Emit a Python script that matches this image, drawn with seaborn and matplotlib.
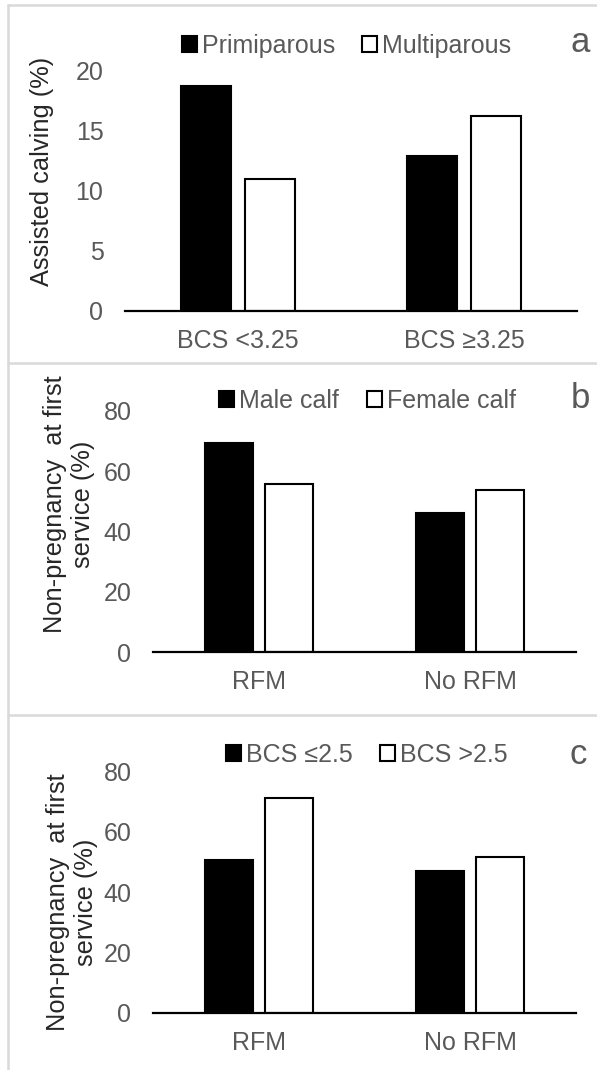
import numpy as np
import pandas as pd
import matplotlib
matplotlib.use("Agg")
import matplotlib.pyplot as plt
import seaborn as sns
from matplotlib.lines import Line2D

# ---------------- data ----------------
categories_a = ["BCS <3.25", "BCS \u22653.25"]
series_a = ["Primiparous", "Multiparous"]
primiparous = [18.7, 12.9]
multiparous = [11.0, 16.2]

categories_bc = ["RFM", "No RFM"]
series_b = ["Male calf", "Female calf"]
male_calf = [69.4, 46.2]
female_calf = [55.7, 53.7]

series_c = ["BCS \u22642.5", "BCS >2.5"]
bcs_low = [50.7, 47.1]
bcs_high = [71.4, 51.8]

ylabel_a = "Assisted calving (%)"
ylabel_bc = "Non-pregnancy  at first\nservice (%)"
yticks_a = [0, 5, 10, 15, 20]
yticks_bc = [0, 20, 40, 60, 80]

# ---------------- style ----------------
sns.set_style("white")
plt.rcParams["font.family"] = ["Liberation Sans", "DejaVu Sans"]
GRAY = "#595959"
TICK_FS = 18
LEG_FS = 18
LABEL_FS = 18.3

W, H = 597, 1070
fig = plt.figure(figsize=(W / 100, H / 100), dpi=100)


def long_df(cats, names, v1, v2):
    rows = []
    for c, a, b in zip(cats, v1, v2):
        rows.append({"cat": c, "series": names[0], "value": a})
        rows.append({"cat": c, "series": names[1], "value": b})
    return pd.DataFrame(rows)


def px_axes(left, right, top, bottom):
    return fig.add_axes([left / W, 1 - bottom / H, (right - left) / W, (bottom - top) / H])


panels = [
    dict(df=long_df(categories_a, series_a, primiparous, multiparous), names=series_a,
         box=(125, 577, 70.7, 310.7), ylim=(0, 20), yticks=yticks_a, ylabel=ylabel_a,
         lab_xy=(-0.184, 0.58), leg_xy=(0.49, 1.103), width=0.566, gap=0.22,
         letter="a", letter_xy=(580, 43)),
    dict(df=long_df(categories_bc, series_b, male_calf, female_calf), names=series_b,
         box=(153, 576, 410.7, 652), ylim=(0, 80), yticks=yticks_bc, ylabel=ylabel_bc,
         lab_xy=(-0.199, 0.613), leg_xy=(0.507, 1.040), width=0.567, gap=0.2,
         letter="b", letter_xy=(580, 399)),
    dict(df=long_df(categories_bc, series_c, bcs_low, bcs_high), names=series_c,
         box=(153, 576, 771.7, 1012.7), ylim=(0, 80), yticks=yticks_bc, ylabel=ylabel_bc,
         lab_xy=(-0.192, 0.46), leg_xy=(0.506, 1.069), width=0.567, gap=0.2,
         letter="c", letter_xy=(578, 755)),
]

for p in panels:
    ax = px_axes(*p["box"])
    pal = {p["names"][0]: "black", p["names"][1]: "white"}
    sns.barplot(data=p["df"], x="cat", y="value", hue="series", hue_order=p["names"],
                palette=pal, edgecolor="black", linewidth=1.5, width=p["width"],
                gap=p["gap"], errorbar=None, saturation=1, ax=ax)
    ax.set_ylim(*p["ylim"])
    ax.set_xlim(-0.5, 1.5)
    ax.set_yticks(p["yticks"])
    ax.set_xlabel("")
    ax.set_ylabel(p["ylabel"], fontsize=LABEL_FS, color="#262626", linespacing=1.2)
    ax.yaxis.set_label_coords(*p["lab_xy"])
    ax.yaxis.label.set_va("center")
    ax.tick_params(axis="y", length=0, pad=15.5, labelsize=TICK_FS, labelcolor=GRAY)
    ax.tick_params(axis="x", length=0, pad=13, labelsize=TICK_FS, labelcolor=GRAY)
    for s in ["left", "top", "right"]:
        ax.spines[s].set_visible(False)
    ax.spines["bottom"].set_color("black")
    ax.spines["bottom"].set_linewidth(1.6)
    ax.patch.set_alpha(0)
    leg = ax.legend(loc="center", bbox_to_anchor=p["leg_xy"], ncol=2, frameon=False,
                    fontsize=LEG_FS, handlelength=0.6, handleheight=0.6,
                    handletextpad=0.2, columnspacing=1.1, borderpad=0, borderaxespad=0)
    for t in leg.get_texts():
        t.set_color(GRAY)
    for h in leg.legend_handles:
        h.set_edgecolor("black")
        h.set_linewidth(1.5)
    lx, ly = p["letter_xy"]
    fig.text(lx / W, 1 - ly / H, p["letter"], fontsize=25, color=GRAY,
             ha="center", va="center")

# panel frames
BORDER = "#d9d9d9"
def fline(x0, y0, x1, y1):
    fig.add_artist(Line2D([x0 / W, x1 / W], [1 - y0 / H, 1 - y1 / H],
                          transform=fig.transFigure, color=BORDER, lw=1.8))

fline(7.5, 5, 7.5, H)
fline(7.5, 5, W, 5)
fline(7.5, 363, W, 363)
fline(7.5, 715, W, 715)

fig.savefig("out.png", dpi=100, facecolor="white")
